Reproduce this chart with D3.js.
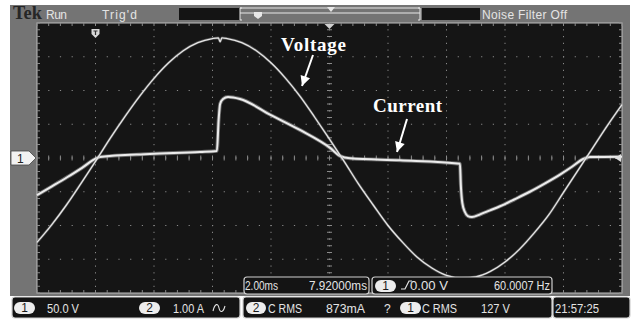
<!DOCTYPE html>
<html><head><meta charset="utf-8">
<script src="https://cdn.jsdelivr.net/npm/d3@7"></script>
<style>
html,body{margin:0;padding:0;background:#fff;}
svg{display:block;}
</style></head>
<body>
<svg id="c" width="633" height="322"></svg>
<script>
// ---------------- data ----------------
// Voltage trace (channel 1, 50 V/div): time in ms, volts
const voltageT = [0,0.5,1,1.5,2,2.5,3,3.5,4,4.5,5,5.5,6,6.2,6.26,6.32,6.5,7,7.5,8,8.5,9,9.5,10,10.5,11,11.5,12,12.5,13,13.5,14,14.5,15,15.5,16,16.5,17,17.5,18,18.5,19,19.5,20];
const voltageV = [-125,-99,-70,-38,-5,29,61,91,118,141,159,171,177,178,172,178,177,171,159,141,118,91,60,28,-5,-39,-70,-100,-125,-147,-163,-174,-178,-176,-168,-154,-135,-111,-84,-51,-18,15,48,79];
// Current trace (channel 2, 1 A/div): time in ms, amps
const currentT = [0,0.51,1.03,1.54,2.05,2.15,3.86,5.57,6.15,6.21,6.26,6.36,6.53,6.94,8.0,8.99,10.02,10.36,10.7,12.41,14.46,14.49,14.54,14.63,14.73,14.87,15.15,15.49,15.83,16.34,16.85,17.37,17.88,18.29,18.67,18.91,20];
const currentA = [-1.1,-0.84,-0.57,-0.29,0,0.03,0.12,0.18,0.21,1.13,1.6,1.75,1.81,1.75,1.27,0.83,0.3,0.06,-0.01,-0.07,-0.17,-0.8,-1.33,-1.6,-1.72,-1.75,-1.67,-1.55,-1.43,-1.22,-1.0,-0.75,-0.49,-0.26,-0.03,0.03,0.04];
// axes / divisions
const timeDivs = [0,2,4,6,8,10,12,14,16,18,20];          // ms (2.00 ms/div)
const voltDivs = [-200,-150,-100,-50,0,50,100,150,200];  // V (50.0 V/div)
// texts
const topLabels = ["Tek","Run","Trig'd","Noise Filter Off"];
const timeInfo = ["2.00ms","7.92000ms"];
const trigInfo = ["1","0.00 V","60.0007 Hz"];
const chInfo = ["1","50.0 V","2","1.00 A"];
const measInfo = ["2","C RMS","873mA","?","1","C RMS","127 V"];
const clockInfo = "21:57:25";
const annotations = ["Voltage","Current"];

// ---------------- drawing ----------------
const svg = d3.select("#c");
const L=37,R=622,T=23,B=293;
const x = d3.scaleLinear().domain([0,20]).range([L,R]);
const yV = d3.scaleLinear().domain([-200,200]).range([B,T]);
const yI = d3.scaleLinear().domain([-4,4]).range([B,T]);

const panel="#747474", txt="#e4e4e4", scr="#151515";
svg.append("rect").attr("x",10).attr("y",5).attr("width",620).attr("height",291).attr("fill",panel);
svg.append("rect").attr("x",L).attr("y",T).attr("width",R-L).attr("height",B-T).attr("fill",scr)
  .attr("stroke","#bdbdbd").attr("stroke-width",1);

const g = svg.append("g");
const dotC="#8a8a8a";
const minorT = d3.range(0,20.001,0.4);
const minorV = d3.range(-200,200.001,10);
timeDivs.slice(1,-1).forEach(t=>{
  minorV.forEach(v=>{ g.append("rect").attr("x",x(t)-0.5).attr("y",yV(v)-0.5).attr("width",1).attr("height",1.2).attr("fill",dotC);});
});
voltDivs.slice(1,-1).forEach(v=>{
  minorT.forEach(t=>{ g.append("rect").attr("x",x(t)-0.5).attr("y",yV(v)-0.5).attr("width",1.2).attr("height",1).attr("fill",dotC);});
});
minorT.forEach(t=>{ g.append("line").attr("x1",x(t)).attr("x2",x(t)).attr("y1",yV(0)-2.5).attr("y2",yV(0)+2.5).attr("stroke",dotC).attr("stroke-width",1);});
minorV.forEach(v=>{ g.append("line").attr("y1",yV(v)).attr("y2",yV(v)).attr("x1",x(10)-2.5).attr("x2",x(10)+2.5).attr("stroke",dotC).attr("stroke-width",1);});
minorT.forEach(t=>{
  g.append("line").attr("x1",x(t)).attr("x2",x(t)).attr("y1",T).attr("y2",T+3).attr("stroke",dotC);
  g.append("line").attr("x1",x(t)).attr("x2",x(t)).attr("y1",B-3).attr("y2",B).attr("stroke",dotC);
});
minorV.forEach(v=>{
  g.append("line").attr("y1",yV(v)).attr("y2",yV(v)).attr("x1",L).attr("x2",L+3).attr("stroke",dotC);
  g.append("line").attr("y1",yV(v)).attr("y2",yV(v)).attr("x1",R-3).attr("x2",R).attr("stroke",dotC);
});

// traces
const lineV = d3.line().x((d,i)=>x(voltageT[i])).y((d,i)=>yV(voltageV[i])).curve(d3.curveMonotoneX);
const lineI = d3.line().x((d,i)=>x(currentT[i])).y((d,i)=>yI(currentA[i])).curve(d3.curveMonotoneX);
svg.append("path").attr("d",lineI(currentT)).attr("fill","none").attr("stroke","#9a9a9a").attr("stroke-width",3.8).attr("opacity",0.6);
svg.append("path").attr("d",lineI(currentT)).attr("fill","none").attr("stroke","#ececec").attr("stroke-width",2);
svg.append("path").attr("d",lineV(voltageT)).attr("fill","none").attr("stroke","#8a8a8a").attr("stroke-width",2.6).attr("opacity",0.5);
svg.append("path").attr("d",lineV(voltageT)).attr("fill","none").attr("stroke","#e6e6e6").attr("stroke-width",1.3);

// markers
svg.append("path").attr("d",`M${x(10)-5},${T+1} L${x(10)+5},${T+1} L${x(10)},${T+6} Z`).attr("fill","#d0d0d0");
const tx = x(2);
svg.append("path").attr("d",`M${tx-4},${T+6} L${tx+4},${T+6} L${tx+4},${T+11} L${tx},${T+15} L${tx-4},${T+11} Z`).attr("fill","#d8d8d8");
svg.append("path").attr("d",`M${tx-2},${T+8} L${tx+2},${T+8} M${tx},${T+8} L${tx},${T+12}`).attr("stroke","#333").attr("stroke-width",1.2);
svg.append("path").attr("d",`M${R-1},${yV(0)-4} L${R-7},${yV(0)} L${R-1},${yV(0)+4} Z`).attr("fill","#e0e0e0");
svg.append("line").attr("x1",R-7).attr("x2",R-1).attr("y1",yV(0)).attr("y2",yV(0)).attr("stroke","#e0e0e0");
svg.append("path").attr("d",`M11,${yV(0)-7} L29,${yV(0)-7} L36,${yV(0)} L29,${yV(0)+7} L11,${yV(0)+7} Z`).attr("fill","#f2f2f2").attr("stroke","#444").attr("stroke-width",0.8);
svg.append("text").attr("x",17).attr("y",yV(0)+5).text("1").attr("font-family","Liberation Sans, Arial, sans-serif").attr("font-size",12).attr("fill","#222");

// top bar
const sans="Liberation Sans, Arial, sans-serif";
svg.append("text").attr("x",13).attr("y",19).text(topLabels[0]).attr("font-family","Liberation Serif, Times New Roman, serif").attr("font-weight","bold").attr("font-size",18).attr("fill","#262626").attr("textLength",29).attr("lengthAdjust","spacingAndGlyphs");
svg.append("text").attr("x",46).attr("y",19).text(topLabels[1]).attr("font-family",sans).attr("font-size",12).attr("fill",txt).attr("textLength",21);
svg.append("text").attr("x",102).attr("y",19).text(topLabels[2]).attr("font-family",sans).attr("font-size",12).attr("fill",txt).attr("textLength",35);
svg.append("rect").attr("x",179).attr("y",8).attr("width",61).attr("height",12).attr("fill","#141414");
svg.append("rect").attr("x",240).attr("y",7).attr("width",180).attr("height",13).attr("fill",panel);
svg.append("path").attr("d","M242,8 L240,8 L240,20 L242,20 M418,8 L420,8 L420,20 L418,20").attr("fill","none").attr("stroke","#e8e8e8");
svg.append("line").attr("x1",240).attr("x2",420).attr("y1",8).attr("y2",8).attr("stroke","#e8e8e8");
svg.append("line").attr("x1",240).attr("x2",420).attr("y1",13).attr("y2",13).attr("stroke","#e8e8e8");
svg.append("path").attr("d","M327,7 L335,7 L331,12 Z").attr("fill","#e8e8e8");
svg.append("path").attr("d","M254,12 L262,12 L262,16 L258,19 L254,16 Z").attr("fill","#e8e8e8");
svg.append("rect").attr("x",422).attr("y",8).attr("width",58).attr("height",12).attr("fill","#141414");
svg.append("text").attr("x",482).attr("y",19).text(topLabels[3]).attr("font-family",sans).attr("font-size",12).attr("fill",txt).attr("textLength",85);

// info boxes
function box(x0,y0,w,h){
  svg.append("rect").attr("x",x0).attr("y",y0).attr("width",w).attr("height",h).attr("rx",3).attr("fill","#141414").attr("stroke","#cfcfcf").attr("stroke-width",1.2);
}
function pill(x0,y0,w,h,label){
  svg.append("rect").attr("x",x0).attr("y",y0).attr("width",w).attr("height",h).attr("rx",6).attr("fill","#ededed");
  svg.append("text").attr("x",x0+w/2).attr("y",y0+h-2.5).attr("text-anchor","middle").text(label).attr("font-family",sans).attr("font-size",12).attr("fill","#1a1a1a");
}
function label(xp,yp,s,len,anchor){
  const t=svg.append("text").attr("x",xp).attr("y",yp).text(s).attr("font-family",sans).attr("font-size",12).attr("fill",txt).attr("text-anchor",anchor||"start");
  if(len) t.attr("textLength",len).attr("lengthAdjust","spacingAndGlyphs");
}
box(244,277,125,17);
label(245,290,timeInfo[0],33);
label(367,290,timeInfo[1],58,"end");
box(372,277,180,17);
pill(375,280,21,12,trigInfo[0]);
svg.append("path").attr("d","M401,289 L405,289 L409,281 L412,281").attr("fill","none").attr("stroke",txt).attr("stroke-width",1.2);
label(410,290,trigInfo[1],38);
label(550,290,trigInfo[2],56,"end");

// bottom row
box(12,297,228,21);
pill(14,302,21,12,chInfo[0]);
label(47,313,chInfo[1],32);
pill(139,302,21,12,chInfo[2]);
label(173,313,chInfo[3],31);
svg.append("path").attr("d","M213,311 C215,303 218,303 219,308 C220,313 223,313 225,306").attr("fill","none").attr("stroke",txt).attr("stroke-width",1.1);
box(243,297,309,21);
pill(246,302,20,12,measInfo[0]);
label(268,313,measInfo[1],34);
label(326,313,measInfo[2],39);
label(384,313,measInfo[3]);
pill(400,302,21,12,measInfo[4]);
label(422,313,measInfo[5],35);
label(481,313,measInfo[6],29);
box(553,297,77,21);
label(555,313,clockInfo,44);

// annotations
const serif="Liberation Serif, Times New Roman, serif";
svg.append("text").attr("x",281).attr("y",51).text(annotations[0]).attr("font-family",serif).attr("font-weight","bold").attr("font-size",19).attr("fill","#fff").attr("textLength",65);
svg.append("text").attr("x",373).attr("y",112).text(annotations[1]).attr("font-family",serif).attr("font-weight","bold").attr("font-size",19).attr("fill","#fff").attr("textLength",69);
function arrow(x1,y1,x2,y2){
  svg.append("line").attr("x1",x1).attr("y1",y1).attr("x2",x2).attr("y2",y2).attr("stroke","#fff").attr("stroke-width",2);
  const a=Math.atan2(y2-y1,x2-x1), s=10, w=5;
  const bx=x2-s*Math.cos(a), by=y2-s*Math.sin(a);
  svg.append("path").attr("d",`M${x2},${y2} L${bx+w*Math.sin(a)},${by-w*Math.cos(a)} L${bx-w*Math.sin(a)},${by+w*Math.cos(a)} Z`).attr("fill","#fff");
}
arrow(313,55,302,86);
arrow(407,119,397,152);
</script>
</body></html>
